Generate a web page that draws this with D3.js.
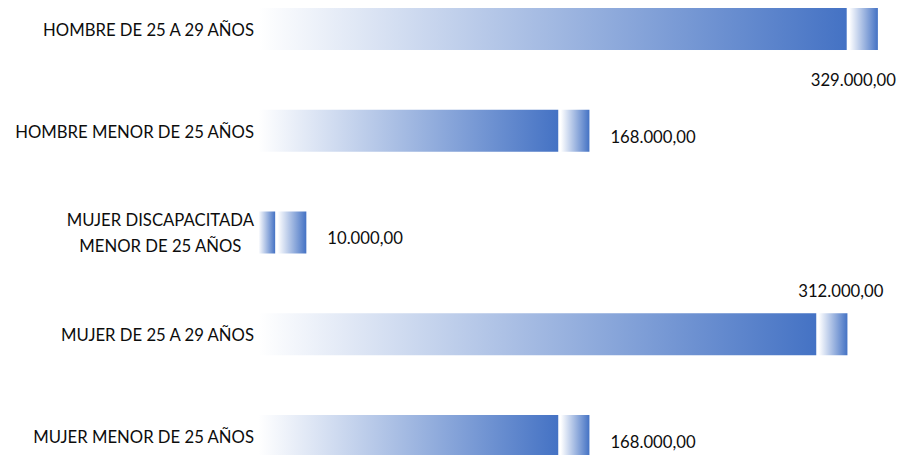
<!DOCTYPE html>
<html><head><meta charset="utf-8">
<script src="https://cdn.jsdelivr.net/npm/d3@7"></script>
<style>
body{margin:0;background:#fff}
svg{display:block}
text{font-family:Lato,'Open Sans',sans-serif;fill:#0d0d0d}
</style></head><body>
<script>
const categories=["HOMBRE DE 25 A 29 AÑOS","HOMBRE MENOR DE 25 AÑOS","MUJER DISCAPACITADA MENOR DE 25 AÑOS","MUJER DE 25 A 29 AÑOS","MUJER MENOR DE 25 AÑOS"];
const values=[329000,168000,10000,312000,168000];
const capValues=[16700,16700,16700,16700,16700];
const labelPlacement=["below","right","right","above","right"];

const W=903,H=455;
const svg=d3.select("body").append("svg").attr("width",W).attr("height",H);
const defs=svg.append("defs");
const grad=defs.append("linearGradient").attr("id","g").attr("x1","0").attr("x2","1").attr("y1","0").attr("y2","0");
grad.append("stop").attr("offset","0%").attr("stop-color","#ffffff");
grad.append("stop").attr("offset","100%").attr("stop-color","#4472C4");

const x=d3.scaleLinear().domain([0,360000]).range([258.5,903.5]);
const y=d3.scaleBand().domain(categories).range([8,457]).paddingInner(0.5872).paddingOuter(0);
const gap=1.25;
const fmt=d3.formatLocale({decimal:",",thousands:".",grouping:[3],currency:["",""]}).format(",.2f");
const fs=16.7;

const data=categories.map((c,i)=>({c,v:values[i],cap:capValues[i],pl:labelPlacement[i]}));
const g=svg.append("g");
g.selectAll("rect.main").data(data).join("rect").attr("class","main")
 .attr("x",x(0)).attr("y",d=>y(d.c)).attr("height",y.bandwidth())
 .attr("width",d=>x(d.v)-x(0)-gap).attr("fill","url(#g)");
g.selectAll("rect.cap").data(data).join("rect").attr("class","cap")
 .attr("x",d=>x(d.v)+gap).attr("y",d=>y(d.c)).attr("height",y.bandwidth())
 .attr("width",d=>x(d.v+d.cap)-x(d.v)-gap).attr("fill","url(#g)");

// value labels
g.selectAll("text.val").data(data).join("text").attr("class","val")
 .style("font-size",fs+"px")
 .text(d=>fmt(d.v))
 .each(function(d){
   const t=d3.select(this);
   const end=x(d.v+d.cap), top=y(d.c), bot=top+y.bandwidth(), mid=top+y.bandwidth()/2;
   if(d.pl==="right"){t.attr("x",end+21).attr("y",mid+6).attr("dy","0.35em").attr("text-anchor","start");}
   else if(d.pl==="below"){t.attr("x",end+18).attr("y",bot+30).attr("dy","0.35em").attr("text-anchor","end");}
   else {t.attr("x",end+36).attr("y",top-22).attr("dy","0.35em").attr("text-anchor","end");}
 });

// category labels
const labX=254, maxW=250, lh=26;
data.forEach(d=>{
  const t=g.append("text").style("font-size",fs+"px");
  const words=d.c.split(" ");
  const lines=[];let cur=[];
  words.forEach(w=>{
    const test=cur.concat([w]).join(" ");
    t.text(test);
    if(t.node().getComputedTextLength()>maxW && cur.length){lines.push(cur.join(" "));cur=[w];}
    else cur.push(w);
  });
  lines.push(cur.join(" "));
  t.text(null);
  const widths=lines.map(l=>{t.text(l);return t.node().getComputedTextLength();});
  t.text(null);
  const mw=d3.max(widths);
  const cx=labX-mw/2;
  const mid=y(d.c)+y.bandwidth()/2+1;
  const y0=mid-(lines.length-1)*lh/2;
  t.attr("text-anchor","middle");
  lines.forEach((l,i)=>{
    t.append("tspan").attr("x",cx).attr("y",y0+i*lh).attr("dy","0.35em").text(l);
  });
});
</script>
</body></html>
